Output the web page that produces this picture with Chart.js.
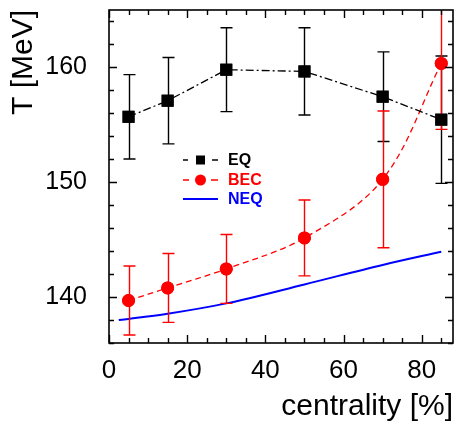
<!DOCTYPE html>
<html>
<head>
<meta charset="utf-8">
<script src="https://cdn.jsdelivr.net/npm/chart.js@4/dist/chart.umd.min.js"></script>
<style>
  html, body { margin: 0; padding: 0; background: #fff; }
  #wrap { width: 456px; height: 421px; }
</style>
</head>
<body>
<div id="wrap"><canvas id="tChart" width="456" height="421"></canvas></div>
<script>
// values
var xTickLabels = [0, 20, 40, 60, 80];
var yTickLabels = [140, 150, 160];
var centrality = [5, 15, 30, 50, 70, 85];
var eqT = [155.7, 157.1, 159.8, 159.65, 157.45, 155.45];
var eqErr = [3.67, 3.76, 3.65, 3.8, 3.9, 5.55];
var becT = [139.7, 140.8, 142.45, 145.15, 150.25, 160.35];
var becErr = [3.0, 3.0, 3.0, 3.3, 5.95, 5.75];
var neqX = [2.5, 5, 15, 30, 50, 70, 85];
var neqT = [138.0, 138.1, 138.55, 139.45, 141.1, 142.8, 143.95];

var mainFont = "'Liberation Sans', Arial, sans-serif";

function pts(xs, ys) {
  return xs.map(function(x, i) { return { x: x, y: ys[i] }; });
}

var errorBars = {
  id: 'errorBars',
  afterDatasetsDraw: function(chart) {
    var ctx = chart.ctx, xs = chart.scales.x, ys = chart.scales.y, a = chart.chartArea;
    ctx.save();
    ctx.beginPath();
    ctx.rect(a.left, a.top, a.right - a.left, a.bottom - a.top);
    ctx.clip();
    chart.data.datasets.forEach(function(ds) {
      if (!ds.errors) return;
      ctx.strokeStyle = ds.borderColor;
      ctx.lineWidth = 1.4;
      ctx.setLineDash([]);
      ds.data.forEach(function(p, i) {
        var px = Math.round(xs.getPixelForValue(p.x)) + 0.5;
        var top = ys.getPixelForValue(p.y + ds.errors[i]);
        var bot = ys.getPixelForValue(p.y - ds.errors[i]);
        ctx.beginPath();
        ctx.moveTo(px, top); ctx.lineTo(px, bot);
        ctx.moveTo(px - 6, top); ctx.lineTo(px + 6, top);
        ctx.moveTo(px - 6, bot); ctx.lineTo(px + 6, bot);
        ctx.stroke();
      });
    });
    ctx.restore();
    // markers back on top of the bars
    chart.data.datasets.forEach(function(ds, di) {
      if (!ds.errors) return;
      chart.getDatasetMeta(di).data.forEach(function(el) { el.draw(ctx, a); });
    });
  }
};

var frameTicks = {
  id: 'frameTicks',
  afterDraw: function(chart) {
    var ctx = chart.ctx, xs = chart.scales.x, ys = chart.scales.y, a = chart.chartArea;
    ctx.save();
    ctx.strokeStyle = '#000';
    ctx.lineWidth = 1.6;
    ctx.setLineDash([]);
    ctx.strokeRect(a.left, a.top, a.right - a.left, a.bottom - a.top);
    ctx.lineWidth = 1.4;
    ctx.beginPath();
    for (var v = 0; v <= 85; v += 5) {
      var px = Math.round(xs.getPixelForValue(v)) + 0.5;
      var len = (v % 20 === 0) ? 8 : 5;
      ctx.moveTo(px, a.bottom); ctx.lineTo(px, a.bottom - len);
      ctx.moveTo(px, a.top); ctx.lineTo(px, a.top + len);
    }
    for (var t = 136; t <= 164; t += 2) {
      var py = Math.round(ys.getPixelForValue(t)) + 0.5;
      var l2 = (t % 10 === 0) ? 8 : 5;
      ctx.moveTo(a.left, py); ctx.lineTo(a.left + l2, py);
      ctx.moveTo(a.right, py); ctx.lineTo(a.right - l2, py);
    }
    ctx.stroke();

    // legend
    var items = [
      { ds: chart.data.datasets[0], y: 160 },
      { ds: chart.data.datasets[1], y: 180 },
      { ds: chart.data.datasets[2], y: 199 }
    ];
    ctx.font = 'bold 16px ' + mainFont;
    ctx.textBaseline = 'middle';
    items.forEach(function(it) {
      var ds = it.ds;
      ctx.strokeStyle = ds.borderColor;
      ctx.fillStyle = ds.borderColor;
      ctx.lineWidth = ds.borderWidth;
      ctx.beginPath();
      if (ds.pointStyle === 'rect') {
        ctx.moveTo(183, it.y); ctx.lineTo(188, it.y);
        ctx.moveTo(212, it.y); ctx.lineTo(218, it.y);
        ctx.stroke();
        ctx.fillRect(196, it.y - 4.5, 9, 9);
      } else if (ds.pointStyle === 'circle') {
        ctx.moveTo(183, it.y); ctx.lineTo(189, it.y);
        ctx.moveTo(211, it.y); ctx.lineTo(218, it.y);
        ctx.stroke();
        ctx.beginPath();
        ctx.arc(200.5, it.y, 5.5, 0, Math.PI * 2);
        ctx.fill();
      } else {
        ctx.moveTo(183, it.y); ctx.lineTo(218, it.y);
        ctx.stroke();
      }
      ctx.fillText(ds.label, 228, it.y + 1);
    });
    ctx.restore();
  }
};

var ctx = document.getElementById('tChart').getContext('2d');
new Chart(ctx, {
  type: 'scatter',
  data: {
    datasets: [
      {
        label: 'EQ',
        data: pts(centrality, eqT),
        errors: eqErr,
        showLine: true,
        borderColor: '#000',
        backgroundColor: '#000',
        borderWidth: 1.3,
        borderDash: [8, 3, 2, 3],
        pointStyle: 'rect',
        pointRadius: 8.5,
        pointBorderWidth: 0
      },
      {
        label: 'BEC',
        data: pts(centrality, becT),
        errors: becErr,
        showLine: true,
        borderColor: '#ff0000',
        backgroundColor: '#ff0000',
        borderWidth: 1.3,
        borderDash: [6, 4],
        tension: 0.35,
        pointStyle: 'circle',
        pointRadius: 6.5,
        pointBorderWidth: 0
      },
      {
        label: 'NEQ',
        data: pts(neqX, neqT),
        showLine: true,
        borderColor: '#0000ff',
        backgroundColor: '#0000ff',
        borderWidth: 2,
        cubicInterpolationMode: 'monotone',
        pointRadius: 0
      }
    ]
  },
  options: {
    responsive: false,
    animation: false,
    layout: { autoPadding: false, padding: { left: 0, right: 3, top: 10, bottom: 0 } },
    plugins: { legend: { display: false }, tooltip: { enabled: false } },
    scales: {
      x: {
        type: 'linear',
        min: 0,
        max: 88,
        grid: { display: false },
        border: { display: false },
        afterBuildTicks: function(scale) {
          scale.ticks = xTickLabels.map(function(v) { return { value: v }; });
        },
        afterFit: function(scale) {
          scale.height = 78;
          scale.paddingLeft = 0;
          scale.paddingRight = 0;
        },
        ticks: { color: '#000', padding: 4, maxRotation: 0, font: { family: mainFont, size: 26 } },
        title: {
          display: true,
          text: 'centrality [%]',
          align: 'end',
          color: '#000',
          padding: { top: 0, bottom: -4 },
          font: { family: mainFont, size: 30 }
        }
      },
      y: {
        type: 'linear',
        min: 136,
        max: 165,
        grid: { display: false },
        border: { display: false },
        afterBuildTicks: function(scale) {
          scale.ticks = yTickLabels.map(function(v) { return { value: v }; });
        },
        afterFit: function(scale) {
          scale.width = 109;
          scale.paddingTop = 0;
          scale.paddingBottom = 0;
        },
        ticks: { color: '#000', padding: 14, font: { family: mainFont, size: 25 } },
        title: {
          display: true,
          text: 'T [MeV]',
          align: 'end',
          color: '#000',
          padding: { top: 6, bottom: 0 },
          font: { family: mainFont, size: 30 }
        }
      }
    }
  },
  plugins: [errorBars, frameTicks]
});
</script>
</body>
</html>
